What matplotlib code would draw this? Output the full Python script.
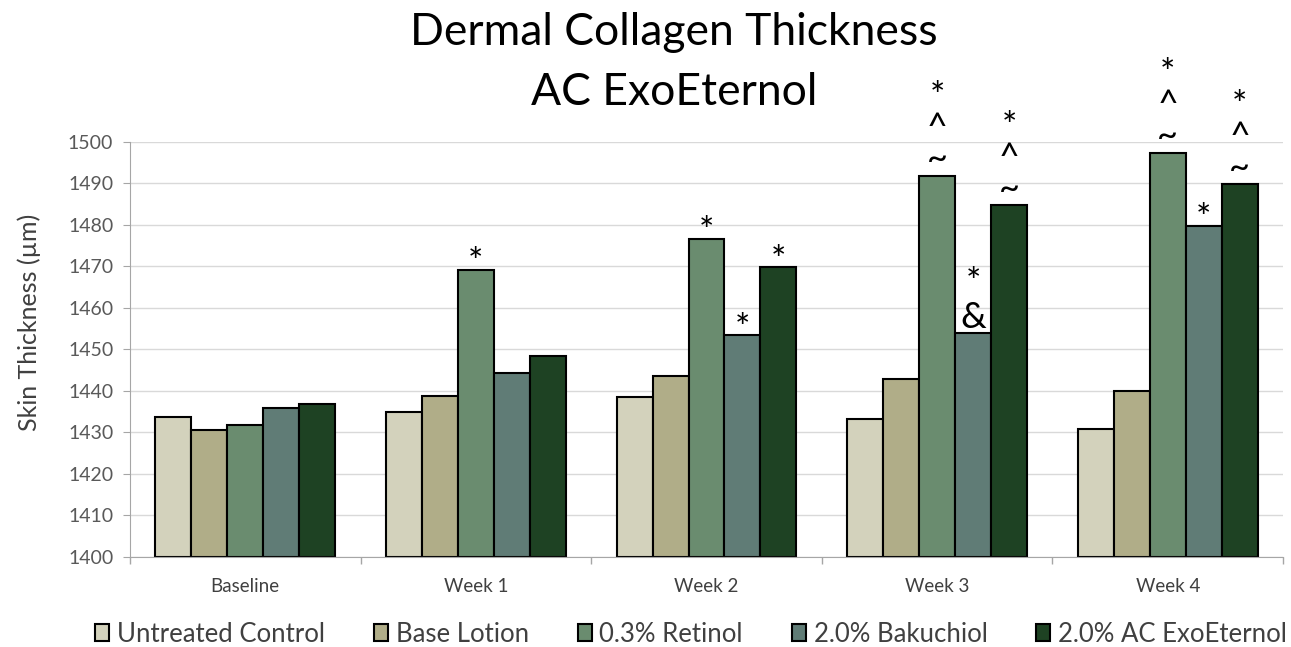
import matplotlib
matplotlib.use("Agg")
import matplotlib.pyplot as plt
from matplotlib.textpath import TextPath
from matplotlib.font_manager import FontProperties
import numpy as np

plt.rcParams['font.family'] = ['Lato', 'DejaVu Sans']

categories = ["Baseline", "Week 1", "Week 2", "Week 3", "Week 4"]
series_names = ["Untreated Control", "Base Lotion", "0.3% Retinol", "2.0% Bakuchiol", "2.0% AC ExoEternol"]
untreated = [1433.8, 1435.0, 1438.6, 1433.3, 1430.8]
base_lotion = [1430.6, 1438.9, 1443.7, 1443.0, 1440.1]
retinol = [1431.9, 1469.2, 1476.6, 1491.9, 1497.4]
bakuchiol = [1436.0, 1444.3, 1453.4, 1454.0, 1479.8]
ac_exo = [1436.9, 1448.4, 1469.8, 1484.7, 1489.9]
colors = ["#D3D2BC", "#B0AD88", "#6A8C6F", "#607C76", "#1E4223"]

# significance marks: (category index, series index, label top->bottom)
marks = [
    (1, 2, "*"),
    (2, 2, "*"), (2, 3, "*"), (2, 4, "*"),
    (3, 2, "*\n^\n~"), (3, 3, "*\n&"), (3, 4, "*\n^\n~"),
    (4, 2, "*\n^\n~"), (4, 3, "*"), (4, 4, "*\n^\n~"),
]

data = [untreated, base_lotion, retinol, bakuchiol, ac_exo]

DPI = 100
fig = plt.figure(figsize=(12.91, 6.47), dpi=DPI)
ax = fig.add_axes([130/1291, 90/647, 1153/1291, 415/647])

x = np.arange(len(categories))
w = 0.156
offsets = (np.arange(5) - 2) * w
for i, (name, vals) in enumerate(zip(series_names, data)):
    ax.bar(x + offsets[i], np.array(vals) - 1400, bottom=1400, width=w, color=colors[i],
           edgecolor="black", linewidth=1.5, label=name, zorder=3)

ax.set_ylim(1400, 1500)
ax.set_xlim(-0.5, 4.5)
ax.set_yticks(np.arange(1400, 1501, 10))
ax.yaxis.grid(True, color="#D9D9D9", linewidth=1, zorder=0)
ax.set_axisbelow(True)
ax.set_xticks(x)
ax.set_xticklabels(categories, fontsize=13.5, color="#404040")
ax.tick_params(axis="x", length=0, pad=15)
ax.set_xticks(np.arange(-0.5, 5.0, 1.0), minor=True)
ax.tick_params(axis="x", which="minor", length=5, color="#A6A6A6", width=1)
ax.tick_params(axis="y", labelsize=14, labelcolor="#595959", length=5, color="#A6A6A6", pad=7)
for s in ["top", "right"]:
    ax.spines[s].set_visible(False)
ax.spines["left"].set_color("#A6A6A6")
ax.spines["bottom"].set_color("#A6A6A6")
ax.spines["bottom"].set_zorder(4)
ax.set_ylabel("Skin Thickness (µm)", fontsize=18, color="#404040")
ax.yaxis.label.set_rotation_mode("anchor")
ax.yaxis.label.set_va("center")
ax.yaxis.set_label_coords((29 - 130) / 1153, (557 - 322) / 415)

fig.text(674/1291, 1 - 45/647, "Dermal Collagen Thickness", fontsize=32,
         ha="center", va="baseline", color="black")
fig.text(674/1291, 1 - 105/647, "AC ExoEternol", fontsize=32,
         ha="center", va="baseline", color="black")

# annotation placement: bottom glyph's visual center (px above bar top) and line pitch (px)
SYM_FS = 26
prop = FontProperties(family="Lato", size=SYM_FS)
px = DPI / 72
renderer = fig.canvas.get_renderer()
lp_w, lp_h, lp_d = renderer.get_text_width_height_descent("lp", prop, ismath=False)
unit = lp_h - lp_d


def ink_center(s):
    e = TextPath((0, 0), s, size=SYM_FS, prop=prop).get_extents()
    return (e.y0 + e.y1) / 2 * px


bottom_center = {"*": 17, "*\n^\n~": 16, "*\n&": 18}
pitch = {"*": 28, "*\n^\n~": 25, "*\n&": 28}

for ci, si, lab in marks:
    xv = x[ci] + offsets[si]
    yv = data[si][ci]
    last = lab.split("\n")[-1]
    base_off = bottom_center[lab] - ink_center(last)
    ax.annotate(lab, (xv, yv), xytext=(0, base_off), textcoords="offset pixels",
                ha="center", va="baseline", multialignment="center",
                fontsize=SYM_FS, linespacing=pitch[lab] / unit, color="black", zorder=5)

leg = fig.legend(loc="center", bbox_to_anchor=(691/1291, 1 - 634/647), ncol=5, frameon=False,
                 fontsize=18.5, handlelength=0.55, handleheight=0.65, handletextpad=0.3,
                 columnspacing=1.9, labelcolor="#404040")

fig.savefig("out.png", dpi=DPI)
